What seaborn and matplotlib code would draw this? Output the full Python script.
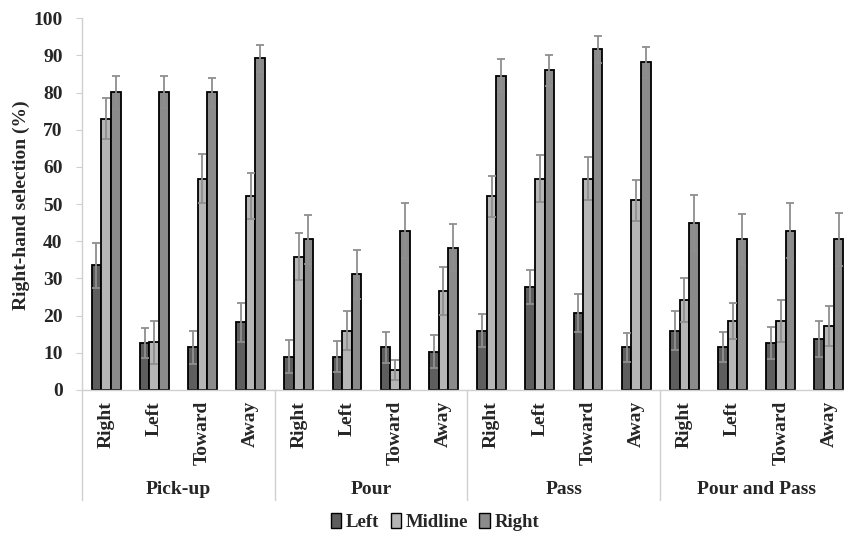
import matplotlib
matplotlib.use("Agg")
import matplotlib.pyplot as plt
import matplotlib.transforms as mtransforms
from matplotlib.patches import Patch
import numpy as np
import pandas as pd
import seaborn as sns

tasks = ["Pick-up", "Pour", "Pass", "Pour and Pass"]
directions = ["Right", "Left", "Toward", "Away"]
series = ["Left", "Midline", "Right"]

# values per (task, direction), in task-major order
left_vals = [33.5, 12.6, 11.5, 18.2,
             9.0, 9.0, 11.5, 10.3,
             16.0, 27.7, 20.7, 11.5,
             16.0, 11.5, 12.6, 13.7]
left_err = [6.0, 4.0, 4.5, 5.2,
            4.5, 4.2, 4.2, 4.4,
            4.5, 4.5, 5.0, 3.9,
            5.2, 4.1, 4.3, 4.8]

mid_vals = [73.0, 12.8, 56.9, 52.1,
            35.9, 16.0, 5.4, 26.7,
            52.1, 56.9, 56.9, 51.1,
            24.3, 18.5, 18.5, 17.2]
mid_err = [5.6, 5.8, 6.5, 6.2,
           6.3, 5.2, 2.6, 6.4,
           5.5, 6.2, 5.8, 5.5,
           5.9, 4.9, 5.6, 5.4]

right_vals = [80.1, 80.1, 80.1, 89.2,
              40.5, 31.1, 42.8, 38.3,
              84.6, 86.0, 91.7, 88.2,
              45.0, 40.5, 42.8, 40.5]
right_err = [4.5, 4.3, 3.9, 3.6,
             6.5, 6.6, 7.4, 6.4,
             4.5, 4.2, 3.6, 4.2,
             7.5, 6.8, 7.4, 7.1]

colors = ["#5e5e5e", "#b6b6b6", "#8b8b8b"]

sns.set_style("white")
plt.rcParams["font.family"] = ["Liberation Serif", "DejaVu Serif"]
plt.rcParams["font.weight"] = "bold"

keys = [f"{t}|{d}" for t in tasks for d in directions]
rows = []
for s, vals in zip(series, [left_vals, mid_vals, right_vals]):
    for k, v in zip(keys, vals):
        rows.append({"cat": k, "series": s, "value": v})
df = pd.DataFrame(rows)

fig = plt.figure(figsize=(8.45, 5.33), dpi=100)
ax = fig.add_axes([82 / 845, 143 / 533, 771 / 845, (390 - 18.3) / 533])

sns.barplot(data=df, x="cat", y="value", hue="series", order=keys,
            hue_order=series, palette=colors, saturation=1, width=0.6,
            edgecolor="black", linewidth=1.3, errorbar=None, legend=False, ax=ax)

for cont, errs in zip(ax.containers, [left_err, mid_err, right_err]):
    xs = [p.get_x() + p.get_width() / 2 for p in cont.patches]
    hs = [p.get_height() for p in cont.patches]
    ax.errorbar(xs, hs, yerr=errs, fmt="none", ecolor="#8f8f8f",
                elinewidth=1.3, capsize=2.8, capthick=1.3, zorder=5)

ax.set_xlim(-0.5, 15.5)
ax.set_ylim(0, 100)
ax.set_yticks(np.arange(0, 101, 10))
ax.tick_params(axis="y", labelsize=14, length=4, color="#d0d0d0", pad=10, left=True)
ax.set_xticks(range(len(keys)))
ax.set_xticklabels(directions * 4, rotation=90, fontsize=14, va="top")
ax.tick_params(axis="x", length=0, pad=8)
ax.set_xlabel("")
ax.set_ylabel("")
for side in ["top", "right"]:
    ax.spines[side].set_visible(False)
for side in ["left", "bottom"]:
    ax.spines[side].set_color("#d0d0d0")
    ax.spines[side].set_linewidth(1.0)

trans = mtransforms.blended_transform_factory(ax.transData, fig.transFigure)
for xb in [-0.5, 3.5, 7.5, 11.5, 15.5]:
    ax.plot([xb, xb], [143 / 533, 33 / 533], color="#d0d0d0", lw=1.0,
            transform=trans, clip_on=False)
for i, t in enumerate(tasks):
    ax.text(4 * i + 1.5, 43 / 533, t, transform=trans, ha="center",
            va="center", fontsize=14, fontweight="bold")

fig.text(21 / 845, (533 - 205) / 533, "Right-hand selection (%)", rotation=90,
         ha="center", va="center", fontsize=14, fontweight="bold")

handles = [Patch(facecolor=c, edgecolor="black", linewidth=1.0) for c in colors]
fig.legend(handles, series, loc="center", bbox_to_anchor=(435 / 845, 11 / 533),
           ncol=3, frameon=False, fontsize=13.5, handlelength=0.55, handleheight=0.85,
           handletextpad=0.25, columnspacing=0.6)

fig.savefig("out.png", dpi=100)
